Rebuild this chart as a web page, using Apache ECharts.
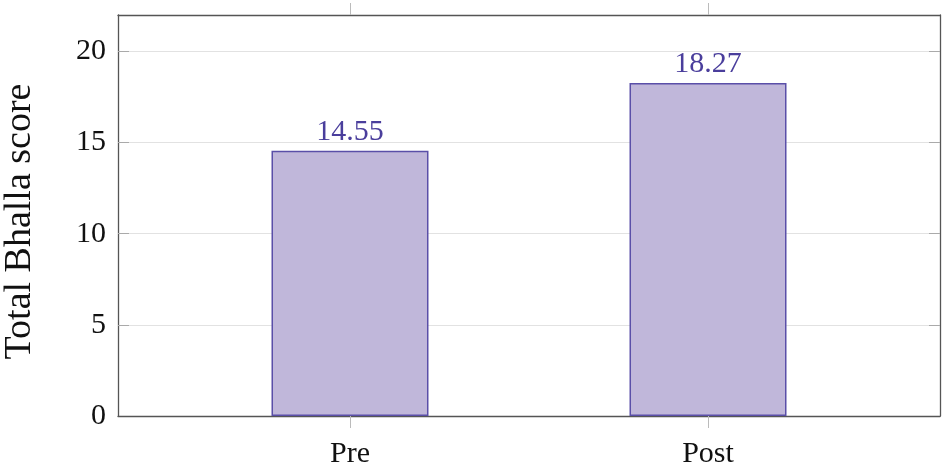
<!DOCTYPE html>
<html>
<head>
<meta charset="utf-8">
<script src="https://cdn.jsdelivr.net/npm/echarts@6/dist/echarts.min.js"></script>
<style>html,body{margin:0;padding:0;background:#fff}#c{width:944px;height:466px}</style>
</head>
<body>
<div id="c"></div>
<script>
var categories = ['Pre', 'Post'];
var scores = [14.55, 18.27];
var yTicks = [0, 5, 10, 15, 20];
var yTitle = 'Total Bhalla score';

var FONT = '"Liberation Serif", "DejaVu Serif", serif';
var positions = categories.map(function (c, i) { return i; });
var data = scores.map(function (v, i) { return [positions[i], v]; });
var innerTicks = yTicks.filter(function (t) { return t > 0; });

var chart = echarts.init(document.getElementById('c'));
var frame = { show: true, onZero: false, lineStyle: { color: '#555', width: 1.3 } };
chart.setOption({
  animation: false,
  grid: { left: 118, right: 4, top: 15, bottom: 50, containLabel: false, outerBoundsMode: 'none' },
  xAxis: [{
    type: 'value', min: -0.648, max: 1.648, position: 'bottom',
    axisLine: frame,
    axisTick: { show: true, inside: false, length: 12, customValues: positions, lineStyle: { color: '#bbb' } },
    axisLabel: { show: true, customValues: positions, margin: 23, fontFamily: FONT, fontSize: 30, color: '#111',
      formatter: function (v) { return categories[Math.round(v)]; } },
    splitLine: { show: false }
  }, {
    type: 'value', min: -0.648, max: 1.648, position: 'top',
    axisLine: frame,
    axisTick: { show: true, inside: false, length: 12, customValues: positions, lineStyle: { color: '#bbb' } },
    axisLabel: { show: false },
    splitLine: { show: false }
  }],
  yAxis: [{
    type: 'value', min: 0, max: 22, interval: 5, position: 'left',
    name: yTitle, nameLocation: 'middle', nameGap: 79,
    nameTextStyle: { fontFamily: FONT, fontSize: 38, color: '#111', padding: [0, 12, 0, 0] },
    axisLine: frame,
    axisTick: { show: true, inside: true, length: 11, customValues: innerTicks, lineStyle: { color: '#aaa' } },
    axisLabel: { customValues: yTicks, margin: 12, fontFamily: FONT, fontSize: 30, color: '#111' },
    splitLine: { show: true, lineStyle: { color: '#e2e2e2', width: 1.2 } }
  }, {
    type: 'value', min: 0, max: 22, interval: 5, position: 'right',
    axisLine: frame,
    axisTick: { show: true, inside: true, length: 11, customValues: innerTicks, lineStyle: { color: '#aaa' } },
    axisLabel: { show: false },
    splitLine: { show: false }
  }],
  series: [{
    type: 'bar',
    xAxisIndex: 0, yAxisIndex: 0,
    data: data,
    barWidth: 157,
    itemStyle: { color: '#c0b7da', borderColor: '#5a4fa8', borderWidth: 1.5 },
    label: {
      show: true, position: 'top', distance: 4,
      fontFamily: FONT, fontSize: 30, color: '#4a3e9c',
      formatter: function (p) { return p.value[1].toFixed(2); }
    }
  }]
});
</script>
</body>
</html>
